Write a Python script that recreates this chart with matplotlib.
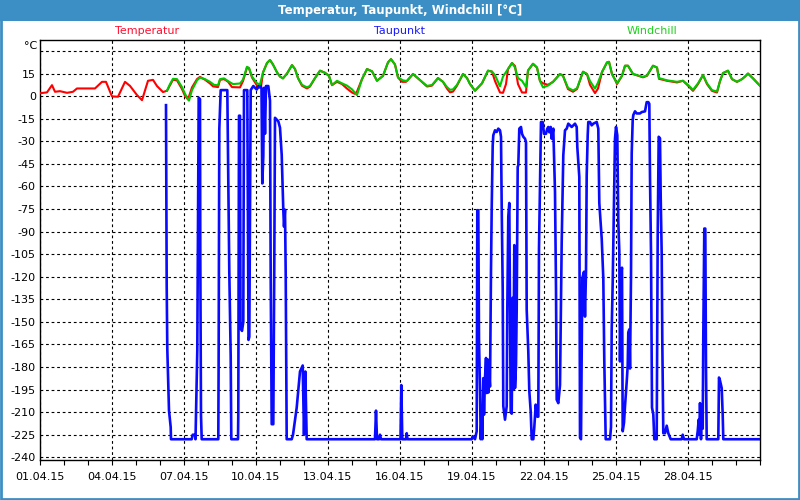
import matplotlib
matplotlib.use("Agg")
import matplotlib.pyplot as plt
from matplotlib.patches import Rectangle

# hours since 01.04.15 00:00
hours_temp = [1, 7, 12, 15, 20, 27, 33, 37, 55, 62,
              66, 72, 78, 85, 90, 97, 102, 108, 113, 117,
              123, 127, 133, 137, 142, 145, 148, 152, 157, 160,
              165, 170, 173, 178, 180, 184, 188, 192, 200, 203,
              207, 209, 212, 217, 219, 221, 223, 227, 230, 233,
              237, 240, 243, 247, 252, 255, 258, 262, 267, 270,
              275, 280, 285, 289, 292, 297, 302, 307, 312, 315,
              317, 322, 327, 332, 337, 343, 348, 351, 355, 358,
              362, 366, 373, 378, 387, 392, 398, 403, 407, 410,
              413, 417, 423, 427, 430, 435, 442, 448, 452, 455,
              460, 463, 466, 468, 472, 475, 478, 482, 486, 488,
              493, 497, 500, 503, 508, 513, 520, 523, 528, 533,
              537, 543, 547, 550, 555, 558, 562, 567, 569, 572,
              575, 577, 582, 585, 588, 593, 603, 607, 613, 617,
              619, 627, 637, 643, 648, 653, 658, 663, 667, 672,
              677, 680, 683, 688, 692, 697, 702, 705, 708, 713,
              720]
temperatur = [2.0, 2.5, 7.3, 2.9, 3.3, 2.2, 2.9, 5.1, 5.1, 9.5,
              9.5, -0.2, -0.4, 9.5, 6.8, 0.7, -2.7, 10.2, 10.8, 6.7,
              2.7, 3.6, 10.9, 10.5, 4.7, 0.2, -2.2, 5.8, 11.3, 12.8,
              10.9, 8.4, 6.5, 6.0, 10.8, 11.3, 9.6, 6.0, 5.8, 10.0,
              19.1, 18.5, 12.4, 7.0, 5.5, 6.0, 15.7, 22.0, 24.0, 21.0,
              15.8, 13.0, 11.8, 15.0, 20.6, 18.0, 12.0, 6.9, 5.1, 6.4,
              12.0, 16.9, 15.5, 13.5, 7.3, 9.5, 8.0, 5.0, 2.4, 1.5,
              3.0, 11.3, 18.0, 16.5, 10.2, 13.5, 22.4, 24.6, 21.0, 12.4,
              9.5, 9.5, 14.7, 11.8, 6.4, 7.0, 12.0, 9.5, 5.0, 2.5,
              3.0, 7.0, 14.7, 12.0, 8.0, 3.6, 8.5, 16.9, 16.3, 10.0,
              2.4, 2.2, 8.0, 18.0, 22.0, 20.0, 8.0, 2.4, 2.4, 17.0,
              21.5, 19.0, 10.0, 8.5, 7.5, 9.5, 14.7, 13.5, 4.7, 2.9,
              4.7, 16.2, 14.7, 7.5, 2.0, 5.0, 16.0, 22.4, 22.8, 14.7,
              11.0, 8.0, 13.5, 20.2, 20.2, 14.7, 12.5, 13.5, 20.2, 19.0,
              11.5, 10.2, 9.1, 10.2, 7.0, 3.5, 8.0, 14.0, 8.0, 3.5,
              2.4, 10.0, 15.3, 16.9, 11.3, 9.5, 11.3, 13.0, 15.0, 11.8,
              6.9]

hours_wc = [127, 130, 133, 137, 142, 145, 149, 152, 157, 160,
            165, 170, 174, 178, 180, 184, 188, 193, 200, 203,
            207, 209, 212, 217, 220, 223, 227, 230, 233, 237,
            240, 243, 247, 252, 255, 258, 262, 267, 270, 275,
            280, 285, 289, 292, 297, 302, 307, 312, 317, 322,
            327, 332, 337, 343, 348, 351, 355, 358, 363, 367,
            373, 378, 387, 392, 398, 403, 407, 410, 413, 417,
            423, 427, 430, 435, 442, 448, 452, 455, 460, 463,
            468, 472, 475, 478, 482, 486, 488, 493, 497, 500,
            503, 508, 513, 520, 523, 528, 533, 537, 543, 547,
            550, 555, 558, 562, 567, 569, 572, 575, 577, 582,
            585, 588, 593, 603, 607, 613, 617, 619, 627, 637,
            643, 648, 653, 658, 663, 667, 672, 677, 680, 683,
            688, 692, 697, 702, 705, 708, 713, 720]
windchill = [3.6, 8.0, 11.5, 11.3, 6.0, 1.5, -3.0, 4.0, 10.5, 12.3,
             11.3, 9.5, 7.5, 7.2, 11.3, 11.8, 10.0, 8.0, 8.4, 11.0,
             19.5, 18.7, 13.0, 8.5, 7.8, 15.7, 22.0, 24.0, 21.0, 15.8,
             13.0, 11.8, 15.0, 20.6, 18.0, 12.0, 7.5, 5.8, 6.8, 12.0,
             16.9, 15.5, 13.5, 7.3, 10.2, 8.5, 7.0, 4.5, 0.7, 11.3,
             18.0, 16.5, 10.2, 13.5, 22.4, 24.6, 21.0, 12.4, 10.5, 10.0,
             14.7, 11.8, 6.8, 7.4, 12.0, 9.5, 6.0, 4.2, 4.5, 7.5,
             14.7, 12.0, 8.0, 3.6, 8.5, 16.9, 16.3, 14.0, 6.5, 13.0,
             18.0, 22.0, 19.0, 12.0, 10.2, 6.0, 17.0, 21.5, 19.0, 10.0,
             5.8, 7.0, 9.5, 14.7, 13.5, 5.5, 3.8, 5.2, 16.2, 14.7,
             10.0, 5.0, 9.0, 16.0, 22.4, 22.8, 14.7, 11.0, 8.5, 13.5,
             20.2, 20.2, 14.7, 12.8, 13.8, 20.2, 19.0, 12.0, 10.5, 9.5,
             10.2, 7.5, 4.2, 8.5, 14.0, 8.5, 4.0, 3.0, 10.0, 15.3,
             16.9, 11.3, 9.5, 11.3, 13.0, 15.0, 11.8, 6.9]

hours_dew = [126, 126.7, 127.3, 129, 130.7, 131, 151.7, 152.7, 155, 155.5,
             157.3, 158, 158.7, 160, 160.3, 161, 161.7, 178.3, 178.6, 179.3,
             180.7, 187.3, 188.3, 189.3, 190.7, 191.3, 198, 198.3, 199, 200,
             200.5, 202, 203.3, 204, 207.3, 208.5, 209.3, 210.7, 213.3, 216.7,
             220, 221.5, 222.3, 223.3, 224, 225, 226, 228.3, 230, 230.7,
             231.7, 233.3, 234.3, 235, 238.3, 240, 241.7, 242.7, 243.3, 244,
             245, 245.7, 246.7, 251.7, 253, 256.7, 260, 262.7, 264, 265.3,
             266.7, 335, 336, 337, 339, 340, 341, 360.5, 361.3, 362.3,
             366, 366.7, 367.5, 431.7, 432.7, 435, 436.7, 437.3, 438.3, 439,
             440, 440.7, 441.7, 442.3, 443.3, 444, 445, 446, 446.7, 447.7,
             448.3, 449.3, 450, 451, 451.7, 452.7, 453.3, 455, 456.7, 458.3,
             460, 461, 461.7, 462.7, 463.3, 465, 466.7, 467.3, 468.3, 469.3,
             470, 470.7, 471.7, 472.7, 473.3, 474.3, 475, 476, 476.7, 477.7,
             478.3, 479.3, 481, 482, 483.3, 485, 486, 486.7, 488.3, 489.3,
             490.7, 491.7, 493.3, 494.3, 495.7, 497.3, 498.3, 499, 500, 501,
             502.7, 504, 506, 507.3, 508.3, 509.3, 510.7, 511.7, 513.3, 515,
             516, 516.7, 518.3, 520, 520.7, 521.7, 523.3, 525, 526.7, 528.3,
             531.7, 535, 536.7, 537.3, 539.3, 540, 541, 542.3, 544, 545,
             546, 546.7, 547.7, 548.3, 550, 551.7, 553.3, 556.7, 558.3, 559.3,
             561.7, 563.3, 564.3, 565.7, 570, 571, 571.7, 572.7, 574, 575,
             576, 577.3, 578.3, 579.3, 580, 581, 582, 582.7, 584, 585,
             586.7, 587.7, 588.3, 589.3, 590, 591, 591.7, 592.7, 593.3, 595,
             596.7, 600, 601.7, 605, 606.7, 608.3, 609.3, 610, 611, 612,
             613.3, 614.3, 616.7, 617.7, 618.7, 620, 620.7, 621.7, 622.3, 623.3,
             625, 626.7, 628.3, 630.7, 641.7, 642.7, 644, 656.7, 657.7, 658.7,
             659.3, 660, 661, 662, 662.7, 663.3, 664.3, 665.3, 666, 666.7,
             678.3, 679, 680, 681.7, 682.7, 683.3, 720]
taupunkt = [-6, -126, -168, -209, -220, -228, -228, -225, -225, -228,
            -169, -86, -1, -2, -107, -212, -228, -228, -182, -22,
            4, 4, -57, -117, -173, -228, -228, -211, -13, -13,
            -154, -156, -150, 4, 4, -162, -160, 4, 6.7, 4.4,
            7.8, 5, -58, -40, 5.5, -25, 6.7, 6.7, -3, -120,
            -218, -218, -110, -14.4, -16.7, -21, -39, -62, -75.5, -86.7,
            -75.5, -118, -228, -228, -225, -207, -183, -179, -225, -183,
            -228, -228, -209, -228, -228, -225, -228, -228, -192, -228,
            -228, -224, -228, -228, -226, -228, -222.7, -75.8, -75.8, -162,
            -195, -228, -211.7, -228, -187.4, -211.7, -187.4, -174, -197.3, -175,
            -197, -185, -193, -115.6, -74.7, -32.7, -26, -22.7, -23.8, -21.6,
            -22.7, -27, -73.6, -127.7, -206, -215, -206, -141, -80, -71,
            -141, -210, -211, -134, -195, -99, -194, -178.5, -141.5, -47,
            -46, -21.6, -20.5, -25, -27, -28.3, -30.5, -142, -169.7, -196,
            -209.5, -228, -228, -220, -205, -213, -213, -101, -59, -17.2,
            -17.2, -25, -25, -21.6, -20.5, -24, -20.5, -28.3, -21.6, -63.6,
            -127.7, -201.7, -204, -192, -155, -96.8, -39.3, -22.7, -21.6, -18.3,
            -20.5, -18.3, -20.5, -33.8, -53.7, -227, -228, -121, -116.7, -146.5,
            -116.7, -52.6, -26, -17.2, -17.2, -19.4, -18.3, -17.2, -21.6, -71,
            -94.6, -121, -176.3, -228, -228, -220, -155, -124, -68, -28.3,
            -20.5, -26, -83.5, -103, -176.3, -118.5, -114, -222.7, -217, -206,
            -190, -179, -157, -155, -181, -120, -38, -16, -12.6, -10.1,
            -11.5, -11.5, -10.6, -10.1, -4, -4, -5.1, -53.7, -103.4, -207,
            -211.5, -228, -228, -92.4, -27, -28, -67, -105, -163, -224,
            -224, -219, -224, -228, -228, -225, -228, -228, -222.7, -215,
            -225, -204, -228, -205, -221, -158.7, -88, -88, -180.7, -228,
            -228, -187, -189, -194, -211.7, -228, -228]

xtick_hours = [0, 72, 144, 216, 288, 360, 432, 504, 576, 648]
xtick_labels = ["01.04.15", "04.04.15", "07.04.15", "10.04.15", "13.04.15",
                "16.04.15", "19.04.15", "22.04.15", "25.04.15", "28.04.15"]
ytick_values = [30, 15, 0, -15, -30, -45, -60, -75, -90, -105, -120, -135,
                -150, -165, -180, -195, -210, -225, -240]
title = "Temperatur, Taupunkt, Windchill [°C]"
series_names = ["Temperatur", "Taupunkt", "Windchill"]

W, H = 800, 500
frame_blue = "#3c8fc4"
fig = plt.figure(figsize=(8, 5), dpi=100)
fig.patch.set_facecolor("white")

ax = fig.add_axes([40 / W, 1 - 460 / H, 720 / W, 420 / H])
ax.plot(hours_temp, temperatur, color="#ff0000", lw=1.5, zorder=3)
ax.plot(hours_dew, taupunkt, color="#0a0aff", lw=1.9, zorder=4)
ax.plot(hours_wc, windchill, color="#00c800", lw=1.5, zorder=5)

ax.set_xlim(0, 720)
ax.set_ylim(-241.8, 37.3)
ax.set_xticks(xtick_hours)
ax.set_xticklabels(xtick_labels)
ax.set_xticks(range(0, 721, 24), minor=True)
ax.set_yticks(ytick_values)
ax.set_yticklabels(["" if v == 30 else str(v) for v in ytick_values])
ax.tick_params(axis="x", which="both", direction="out", length=3.5, width=0.8,
               pad=5, labelsize=8, colors="black")
ax.tick_params(axis="y", length=0, pad=3, labelsize=8)
ax.grid(True, which="major", color="black", linestyle=(0, (2.5, 2.5)), lw=0.8)
for s in ax.spines.values():
    s.set_color("black")
    s.set_linewidth(1.0)

# window frame and title bar
fig.patches.append(Rectangle((0, 1 - 21 / H), 1, 21 / H, transform=fig.transFigure,
                             facecolor=frame_blue, edgecolor="none", zorder=0))
fig.patches.append(Rectangle((0.001, 0.002), 0.998, 0.996, transform=fig.transFigure,
                             fill=False, edgecolor=frame_blue, lw=2, zorder=1))
fig.text(0.5, 1 - 10.5 / H, title, color="white", fontweight="bold",
         fontsize=8.5, ha="center", va="center")

legend_x = [147 / W, 400 / W, 652 / W]
legend_c = ["#ff1030", "#1a1aff", "#20d020"]
for name, xx, cc in zip(series_names, legend_x, legend_c):
    fig.text(xx, 1 - 31 / H, name, color=cc, fontsize=8, ha="center", va="center")
fig.text(37 / W, 1 - 46 / H, "°C", fontsize=8, ha="right", va="center")

fig.savefig("out.png", dpi=100, facecolor="white")
